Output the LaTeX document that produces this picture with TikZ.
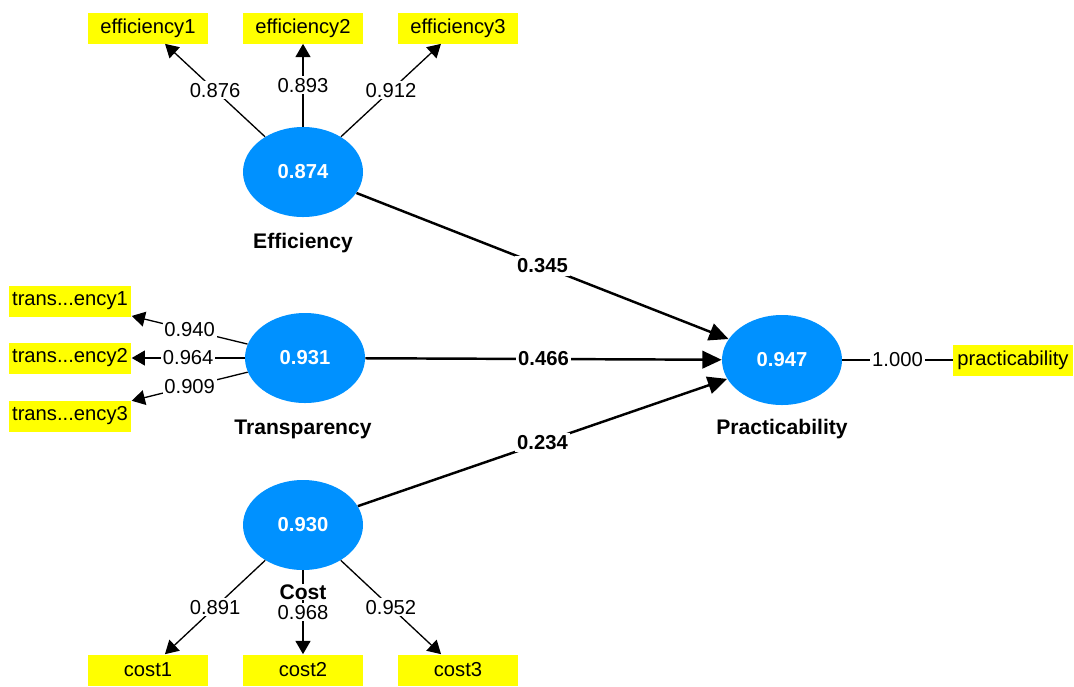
\documentclass[tikz,border=0pt]{standalone}
\usepackage{fontspec}
\setmainfont{Liberation Sans}
\usetikzlibrary{shapes, arrows.meta, positioning, calc}

\definecolor{lvblue}{RGB}{0,145,255}
\definecolor{mvyellow}{RGB}{255,255,0}

\begin{document}
\begin{tikzpicture}[
        x=0.2mm, y=-0.2mm,
        latent/.style={ellipse, fill=lvblue, minimum width=2.4cm, minimum height=1.8cm, text=white, font=\fontsize{11.5}{13}\selectfont\bfseries},
        indicator/.style={fill=mvyellow, minimum width=2.4cm, minimum height=0.62cm, inner sep=2pt, font=\fontsize{11.5}{13}\selectfont},
        lvname/.style={fill=white, inner sep=0.5pt, font=\fontsize{12}{14}\selectfont\bfseries},
        loading/.style={line width=0.75pt, -{Triangle[length=7.5pt,width=8.5pt]}},
        structural/.style={line width=1.4pt, -{Triangle[length=11pt,width=10pt]}},
        weight/.style={fill=white, inner sep=1pt, font=\fontsize{11.5}{13}\selectfont},
        coef/.style={fill=white, inner sep=1.5pt, font=\fontsize{11.5}{13}\selectfont\bfseries}
    ]

    \useasboundingbox (0,0) rectangle (1074,686);

    % Latent variables
    \node[latent] (eff) at (303,172) {0.874};
    \node[latent] (tra) at (305,358) {0.931};
    \node[latent] (cst) at (303,525) {0.930};
    \node[latent] (pra) at (782,360) {0.947};

    % Indicators
    \foreach \i/\x in {1/148,2/303,3/458}
        \node[indicator] (eff\i) at (\x,28) {efficiency\i};
    \foreach \i/\y in {1/301,2/358,3/416}
        \node[indicator] (tra\i) at (70,\y) {trans...ency\i};
    \foreach \i/\x in {1/148,2/303,3/458}
        \node[indicator] (cst\i) at (\x,670) {cost\i};
    \node[indicator] (prab) at (1013,360) {practicability};

    % Outer loadings
    \foreach \i/\w in {1/0.876,2/0.893,3/0.912}
        \draw[loading] (eff) -- node[weight] {\w} (eff\i);
    \foreach \i/\w in {1/0.940,2/0.964,3/0.909}
        \draw[loading] (tra) -- node[weight] {\w} (tra\i);
    \foreach \i/\w in {1/0.891,2/0.968,3/0.952}
        \draw[loading] (cst) -- node[weight] {\w} (cst\i);
    \draw[line width=0.75pt] (pra) -- node[weight] {1.000} (prab);

    % Path coefficients
    \draw[structural] (eff) -- node[coef] {0.345} (pra);
    \draw[structural] (tra) -- node[coef] {0.466} (pra);
    \draw[structural] (cst) -- node[coef] {0.234} (pra);

    % Construct names
    \node[lvname] (effname) at (303,243) {Efficiency};
    \node[lvname] (traname) at (303,429) {Transparency};
    \node[lvname] (cstname) at (303,592) {Cost};
    \node[lvname] (praname) at (782,429) {Practicability};

\end{tikzpicture}
\end{document}
